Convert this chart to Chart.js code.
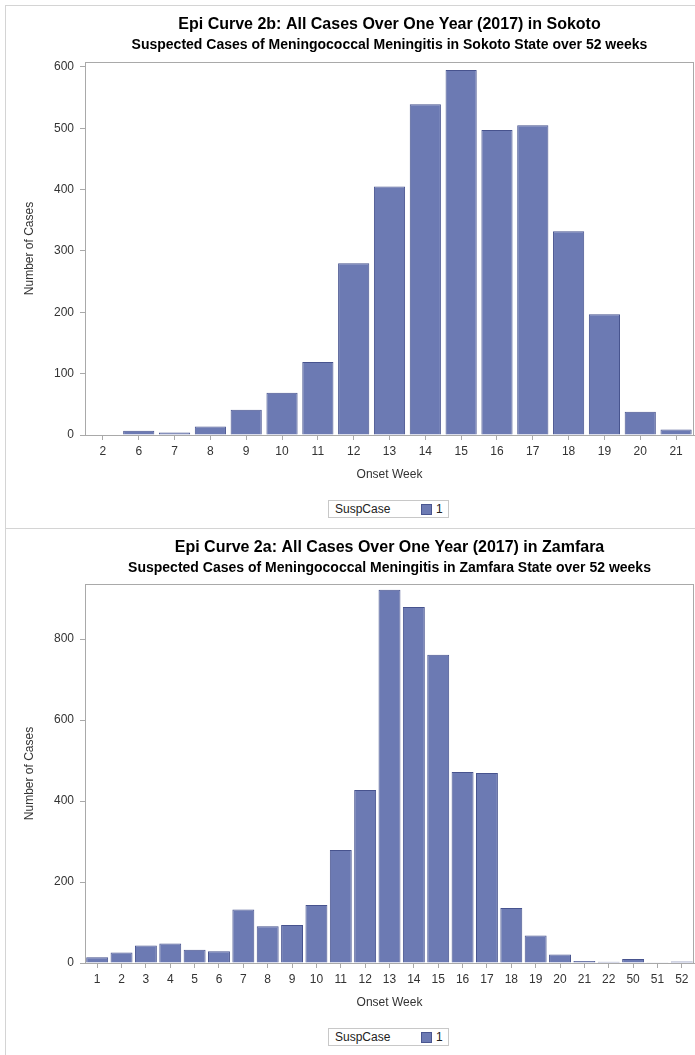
<!DOCTYPE html>
<html>
<head>
<meta charset="utf-8">
<script src="https://cdn.jsdelivr.net/npm/chart.js@4.4.1/dist/chart.umd.min.js"></script>
<style>
  body { margin: 0; background: #fff; font-family: "Liberation Sans", Arial, sans-serif; }
  .panel { position: absolute; left: 5px; width: 690px; border-left: 1px solid #d4d4d4; border-top: 1px solid #d4d4d4; box-sizing: border-box; }
  .chartbox { position: absolute; left: 0; top: 0; width: 689px; }
  .legend { position: absolute; left: 322px; width: 121px; height: 18px; border: 1px solid #c8c8c8; box-sizing: border-box;
            font-size: 12px; color: #222; line-height: 16px; }
  .legend .lab { position: absolute; left: 6px; top: 0; }
  .legend .sw { position: absolute; left: 92px; top: 3px; width: 9px; height: 9px; background: #6c7ab3; border: 1px solid #4a5690; }
  .legend .val { position: absolute; left: 107px; top: 0; }
</style>
</head>
<body>

<div class="panel" style="top:5px;height:523px;">
  <div class="chartbox" style="height:484px;"><canvas id="sokotoChart"></canvas></div>
  <div class="legend" style="top:494px;"><span class="lab">SuspCase</span><span class="sw"></span><span class="val">1</span></div>
</div>

<div class="panel" style="top:528px;height:527px;">
  <div class="chartbox" style="height:489px;"><canvas id="zamfaraChart"></canvas></div>
  <div class="legend" style="top:499px;"><span class="lab">SuspCase</span><span class="sw"></span><span class="val">1</span></div>
</div>

<script>
// Sokoto 2017, weekly suspected cases
let sokotoWeeks = ['2', '6', '7', '8', '9', '10', '11', '12', '13', '14', '15', '16', '17', '18', '19', '20', '21'];
let sokotoCases = [1, 7, 4, 14, 41, 69, 119, 280, 405, 539, 595, 497, 505, 332, 197, 38, 9];

// Zamfara 2017, weekly suspected cases
let zamfaraWeeks = ['1', '2', '3', '4', '5', '6', '7', '8', '9', '10', '11', '12', '13', '14', '15', '16', '17', '18', '19', '20', '21', '22', '50', '51', '52'];
let zamfaraCases = [14, 26, 43, 48, 33, 29, 132, 91, 94, 143, 279, 427, 922, 879, 761, 472, 469, 136, 68, 21, 5, 3, 10, 2, 4];

let sokotoTicks = [0, 100, 200, 300, 400, 500, 600];
let zamfaraTicks = [0, 200, 400, 600, 800];

const axisGray = '#a9a9a9';
const fontName = "'Liberation Sans', Arial, sans-serif";

// draws the box round the plot area
const frameBox = {
    id: 'frameBox',
    afterDraw: (chart) => {
        const a = chart.chartArea;
        const ctx = chart.ctx;
        ctx.save();
        ctx.strokeStyle = axisGray;
        ctx.lineWidth = 1;
        ctx.strokeRect(Math.round(a.left) + 0.5, Math.round(a.top) + 0.5, Math.round(a.right - a.left) - 1, Math.round(a.bottom - a.top));
        ctx.restore();
    }
};

displayEpiCurve = (canvasId, titleText, subtitleText, labels, values, yMax, yTicks, barPct, gapBelow) => {
    var ctx = document.getElementById(canvasId).getContext('2d');
    return new Chart(ctx, {
        type: 'bar',
        data: {
            labels: labels,
            datasets: [{
                label: '1',
                data: values,
                backgroundColor: '#6c7ab3',
                borderColor: '#47538e',
                borderWidth: 1,
                barPercentage: barPct,
                categoryPercentage: 1.0
            }]
        },
        options: {
            responsive: true,
            maintainAspectRatio: false,
            animation: false,
            layout: { padding: { left: 12, right: 1, top: 0, bottom: 5 } },
            plugins: {
                legend: { display: false },
                tooltip: { enabled: false },
                title: {
                    display: true,
                    text: titleText,
                    fullSize: false,
                    color: '#000',
                    font: { family: fontName, size: 16, weight: 'bold', lineHeight: 1.2 },
                    padding: { top: 9, bottom: 3 }
                },
                subtitle: {
                    display: true,
                    text: subtitleText,
                    fullSize: false,
                    color: '#000',
                    font: { family: fontName, size: 14, weight: 'bold', lineHeight: 1.2 },
                    padding: { top: 0, bottom: gapBelow }
                }
            },
            scales: {
                x: {
                    offset: true,
                    border: { color: axisGray },
                    grid: { display: true, drawOnChartArea: false, drawTicks: true, tickLength: 5, offset: false, color: axisGray },
                    ticks: { color: '#333', font: { family: fontName, size: 12 }, padding: 4, maxRotation: 0, autoSkip: false },
                    title: { display: true, text: 'Onset Week', color: '#333', font: { family: fontName, size: 12 }, padding: { top: 4, bottom: 3 } },
                    afterFit: (scale) => { scale.height = 50; }
                },
                y: {
                    min: 0,
                    max: yMax,
                    border: { color: axisGray },
                    grid: { display: true, drawOnChartArea: false, drawTicks: true, tickLength: 5, color: axisGray },
                    afterBuildTicks: (scale) => { scale.ticks = yTicks.map(v => ({ value: v })); },
                    ticks: { color: '#333', font: { family: fontName, size: 12 }, padding: 6 },
                    title: { display: true, text: 'Number of Cases', color: '#333', font: { family: fontName, size: 12 }, padding: { top: 4, bottom: 4 } },
                    afterFit: (scale) => { scale.width = 67; }
                }
            }
        },
        plugins: [frameBox]
    });
}

displayEpiCurve('sokotoChart', 'Epi Curve 2b: All Cases Over One Year (2017) in Sokoto',
    'Suspected Cases of Meningococcal Meningitis in Sokoto State over 52 weeks',
    sokotoWeeks, sokotoCases, 608, sokotoTicks, 0.87, 8);

displayEpiCurve('zamfaraChart', 'Epi Curve 2a: All Cases Over One Year (2017) in Zamfara',
    'Suspected Cases of Meningococcal Meningitis in Zamfara State over 52 weeks',
    zamfaraWeeks, zamfaraCases, 936, zamfaraTicks, 0.9, 7);
</script>
</body>
</html>
